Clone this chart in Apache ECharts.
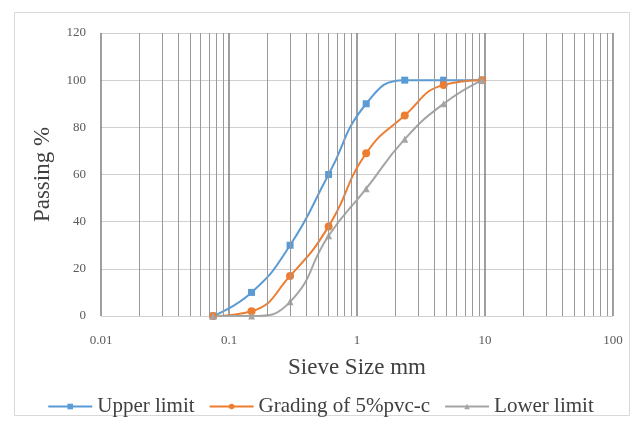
<!DOCTYPE html>
<html>
<head>
<meta charset="utf-8">
<script src="https://cdn.jsdelivr.net/npm/echarts@6/dist/echarts.min.js"></script>
<style>
  html, body { margin: 0; padding: 0; background: #fff; }
  #main { width: 641px; height: 425px; }
</style>
</head>
<body>
<div id="main"></div>
<script>
// sieve sizes (mm) and passing %
var sieveSizes = [0.075, 0.15, 0.3, 0.6, 1.18, 2.36, 4.75, 9.5];
var upperLimit = [0, 10, 30, 60, 90, 100, 100, 100];
var grading = [0, 2, 17, 38, 69, 85, 98, 100];
var lowerLimit = [0, 0, 6, 34, 54, 75, 90, 100];
var seriesNames = ['Upper limit', 'Grading of 5%pvc-c', 'Lower limit'];
// minor log grid lines (2..9 in each decade)
var minorGrid = [];
[0.01, 0.1, 1, 10].forEach(function (d) {
    for (var k = 2; k <= 9; k++) {
        minorGrid.push(+(d * k).toPrecision(3));
    }
});

function pairs(xs, ys) {
    var out = [];
    for (var i = 0; i < xs.length; i++) {
        out.push([xs[i], ys[i]]);
    }
    return out;
}

var font = 'Liberation Serif';
var myChart = echarts.init(document.getElementById('main'));
var option = {
    backgroundColor: '#fff',
    animation: false,
    textStyle: { fontFamily: font },
    graphic: [{
        type: 'rect',
        shape: { x: 14.5, y: 12.5, width: 615, height: 403 },
        style: { fill: 'none', stroke: '#d9d9d9', lineWidth: 1 },
        silent: true
    }],
    grid: { left: 101, right: 28, top: 33, bottom: 109 },
    legend: {
        data: seriesNames,
        left: 'center',
        top: 391,
        itemWidth: 44,
        itemHeight: 7,
        itemGap: 14,
        textStyle: { fontFamily: font, fontSize: 21, color: '#404040' }
    },
    xAxis: {
        type: 'log',
        logBase: 10,
        min: 0.01,
        max: 100,
        name: 'Sieve Size mm',
        nameLocation: 'middle',
        nameGap: 40,
        nameTextStyle: { fontFamily: font, fontSize: 23, color: '#404040' },
        axisLine: { show: false },
        axisTick: { show: false },
        axisLabel: {
            fontFamily: font, fontSize: 13, color: '#595959', margin: 18,
            formatter: function (v) { return String(+v.toPrecision(3)); }
        },
        splitLine: { show: true, lineStyle: { color: '#7f7f7f', width: 1.5 } }
    },
    yAxis: {
        type: 'value',
        min: 0,
        max: 120,
        interval: 20,
        name: 'Passing %',
        nameLocation: 'middle',
        nameGap: 47,
        nameTextStyle: { fontFamily: font, fontSize: 23, color: '#404040' },
        axisLine: { show: false },
        axisTick: { show: false },
        axisLabel: { fontFamily: font, fontSize: 13, color: '#595959', margin: 15 },
        splitLine: { show: true, lineStyle: { color: '#d0d0d0', width: 1 } }
    },
    series: [
        {
            name: 'minor',
            type: 'line',
            data: [],
            silent: true,
            z: 1,
            markLine: {
                silent: true,
                symbol: 'none',
                label: { show: false },
                lineStyle: { color: '#999999', width: 1, type: 'solid' },
                data: minorGrid.map(function (v) { return { xAxis: v }; })
            }
        },
        {
            name: seriesNames[0],
            type: 'line',
            smooth: true,
            data: pairs(sieveSizes, upperLimit),
            symbol: 'rect',
            symbolSize: 7,
            z: 3,
            itemStyle: { color: '#5b9bd5' },
            lineStyle: { color: '#5b9bd5', width: 2 }
        },
        {
            name: seriesNames[1],
            type: 'line',
            smooth: true,
            data: pairs(sieveSizes, grading),
            symbol: 'circle',
            symbolSize: 8,
            z: 3,
            itemStyle: { color: '#ed7d31' },
            lineStyle: { color: '#ed7d31', width: 2 }
        },
        {
            name: seriesNames[2],
            type: 'line',
            smooth: true,
            data: pairs(sieveSizes, lowerLimit),
            symbol: 'triangle',
            symbolSize: 7,
            z: 3,
            itemStyle: { color: '#a5a5a5' },
            lineStyle: { color: '#a5a5a5', width: 2 }
        }
    ]
};
myChart.setOption(option);
</script>
</body>
</html>
